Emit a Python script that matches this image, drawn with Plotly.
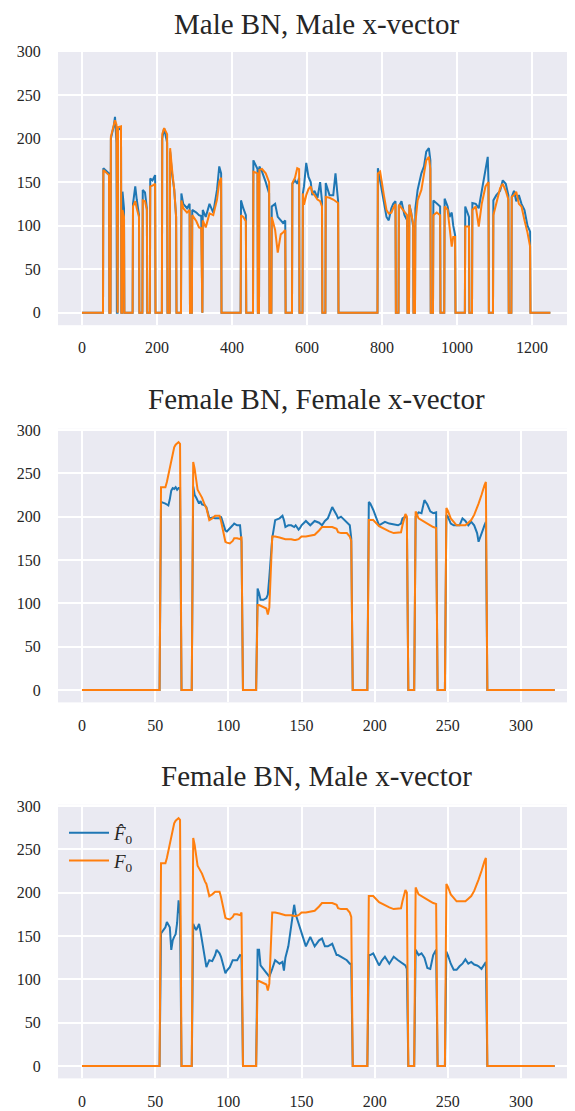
import plotly.graph_objects as go

# ---------------- Data ----------------
# Panel 1: Male BN, Male x-vector (frame index, predicted F0, ground-truth F0)
m_frames = [0, 56, 57, 72, 73, 76, 77, 85, 88, 92, 93, 95, 96, 104, 105, 107, 108, 112, 113, 135,
            136, 142, 146, 152, 153, 161, 162, 168, 173, 174, 181, 182, 188, 195, 196, 213, 214, 219, 227, 228,
            234, 235, 240, 246, 251, 252, 264, 265, 270, 280, 287, 288, 293, 294, 305, 312, 318, 319, 321, 322,
            330, 340, 350, 360, 366, 371, 372, 423, 424, 430, 437, 438, 456, 457, 468, 469, 472, 473, 480, 490,
            499, 500, 505, 506, 515, 522, 530, 536, 542, 543, 560, 561, 568, 574, 579, 580, 588, 589, 592, 598,
            604, 610, 614, 620, 628, 635, 640, 641, 649, 650, 660, 670, 676, 683, 684, 788, 789, 795, 805, 812,
            818, 825, 830, 836, 837, 844, 845, 852, 860, 867, 868, 872, 873, 878, 883, 884, 888, 889, 895, 905,
            912, 918, 925, 929, 930, 936, 937, 946, 955, 956, 966, 967, 975, 980, 986, 990, 995, 996, 1021, 1022,
            1032, 1033, 1040, 1041, 1050, 1058, 1066, 1076, 1082, 1084, 1085, 1096, 1097, 1105, 1115, 1122, 1130, 1137, 1138, 1145,
            1146, 1152, 1158, 1165, 1172, 1180, 1188, 1195, 1196, 1249]
m_pred = [0, 0, 166, 160, 0, 0, 200, 215, 225, 195, 0, 0, 210, 212, 0, 0, 139, 120, 0, 0,
          125, 145, 130, 112, 0, 0, 141, 138, 120, 0, 0, 154, 152, 158, 0, 0, 200, 212, 195, 0,
          0, 185, 160, 141, 110, 0, 0, 137, 125, 120, 125, 0, 0, 118, 115, 112, 111, 0, 0, 118,
          110, 125, 115, 141, 168, 160, 0, 0, 129, 120, 112, 0, 0, 175, 165, 0, 0, 168, 162, 150,
          137, 0, 0, 122, 125, 110, 106, 103, 106, 0, 0, 148, 152, 148, 155, 0, 0, 137, 145, 172,
          156, 150, 135, 140, 132, 150, 128, 0, 0, 149, 135, 135, 160, 128, 0, 0, 166, 150, 125, 110,
          106, 120, 125, 128, 0, 0, 122, 128, 112, 106, 0, 0, 124, 115, 99, 0, 0, 120, 141, 160,
          168, 185, 189, 175, 0, 0, 129, 125, 122, 0, 0, 131, 122, 110, 115, 100, 89, 0, 0, 122,
          110, 0, 0, 126, 125, 120, 140, 160, 179, 150, 0, 0, 129, 135, 140, 152, 148, 135, 0, 0,
          133, 140, 128, 135, 125, 118, 100, 93, 0, 0]
m_true = [0, 0, 164, 158, 0, 0, 202, 215, 221, 216, 0, 0, 213, 214, 0, 0, 118, 110, 0, 0,
          122, 128, 120, 110, 0, 0, 129, 128, 118, 0, 0, 145, 146, 148, 0, 0, 205, 212, 205, 0,
          0, 189, 165, 141, 110, 0, 0, 129, 120, 115, 118, 0, 0, 112, 105, 98, 97, 0, 0, 106,
          98, 114, 112, 130, 150, 155, 0, 0, 112, 110, 105, 0, 0, 162, 160, 0, 0, 164, 165, 160,
          150, 0, 0, 110, 95, 69, 90, 92, 95, 0, 0, 149, 155, 166, 165, 0, 0, 137, 124, 135,
          142, 145, 138, 135, 130, 128, 122, 0, 0, 133, 132, 130, 128, 126, 0, 0, 160, 162, 135, 118,
          114, 115, 120, 125, 0, 0, 124, 120, 115, 112, 0, 0, 124, 115, 103, 0, 0, 103, 129, 141,
          160, 175, 179, 165, 0, 0, 112, 115, 112, 0, 0, 122, 118, 99, 76, 87, 87, 0, 0, 99,
          99, 0, 0, 118, 122, 99, 125, 145, 149, 150, 0, 0, 112, 125, 143, 148, 140, 130, 0, 0,
          133, 135, 139, 125, 122, 106, 92, 76, 0, 0]

# Panels 2 & 3: female utterance (frame, ground truth F0, predicted with female / male x-vector)
f_frames = [0, 53, 54, 56, 57, 58, 59, 60, 61, 62, 63, 64, 65, 66, 67, 68, 75, 76, 77, 78,
            79, 80, 81, 82, 84, 85, 87, 89, 91, 92, 94, 95, 98, 99, 101, 103, 104, 106, 108, 109,
            110, 119, 120, 121, 122, 124, 126, 127, 128, 130, 132, 135, 137, 138, 139, 141, 143, 145, 146, 148,
            149, 150, 153, 156, 159, 162, 164, 166, 168, 171, 174, 175, 177, 181, 183, 184, 185, 195, 196, 197,
            199, 203, 205, 207, 210, 213, 216, 218, 219, 221, 222, 223, 227, 228, 230, 232, 234, 236, 238, 240,
            242, 243, 248, 249, 250, 252, 254, 256, 258, 260, 262, 264, 266, 268, 270, 271, 273, 274, 275, 276,
            277, 323]
f_true = [0, 0, 234, 234, 234, 240, 248, 255, 262, 268, 280, 283, 285, 286, 284, 0, 0, 263, 255, 245,
          231, 228, 225, 222, 213, 210, 196, 198, 201, 201, 201, 195, 171, 170, 169, 172, 175, 175, 174, 177,
          0, 0, 98, 98, 97, 96, 94, 87, 95, 177, 177, 176, 175, 175, 174, 174, 174, 173, 173, 174,
          176, 177, 177, 178, 179, 184, 188, 188, 188, 188, 186, 182, 181, 181, 177, 172, 0, 0, 196, 196,
          196, 189, 187, 185, 183, 181, 182, 182, 190, 203, 200, 0, 0, 206, 198, 196, 194, 193, 190, 188,
          187, 0, 0, 210, 207, 198, 194, 190, 190, 190, 190, 193, 196, 202, 210, 215, 225, 232, 236, 240,
          0, 0]
f_pred_female = [0, 0, 217, 216, 215, 214, 213, 220, 230, 233, 232, 234, 231, 233, 233, 0, 0, 235, 225, 222,
                 219, 215, 218, 214, 213, 211, 198, 199, 198, 198, 198, 200, 184, 183, 186, 190, 192, 190, 190, 171,
                 0, 0, 117, 112, 104, 104, 106, 110, 130, 175, 196, 198, 201, 196, 188, 190, 190, 188, 190, 185,
                 187, 190, 195, 190, 195, 193, 190, 195, 198, 211, 202, 198, 200, 194, 190, 175, 0, 0, 217, 215,
                 208, 190, 192, 194, 192, 191, 190, 192, 198, 200, 198, 0, 0, 200, 205, 204, 219, 214, 206, 204,
                 205, 0, 0, 202, 200, 192, 190, 190, 190, 198, 195, 190, 194, 190, 181, 171, 182, 185, 190, 194,
                 0, 0]
f_pred_male = [0, 0, 153, 157, 160, 166, 162, 160, 134, 145, 149, 152, 165, 191, 175, 0, 0, 164, 160, 157,
               160, 164, 155, 145, 120, 114, 122, 121, 128, 134, 130, 126, 107, 110, 114, 122, 122, 122, 128, 127,
               0, 0, 134, 134, 116, 112, 108, 106, 103, 112, 122, 118, 120, 110, 125, 138, 161, 186, 175, 164,
               160, 153, 138, 149, 138, 145, 147, 138, 138, 141, 128, 128, 126, 122, 118, 118, 0, 0, 128, 128,
               130, 116, 122, 126, 118, 126, 122, 120, 118, 116, 112, 0, 0, 134, 128, 130, 125, 113, 112, 128,
               134, 0, 0, 132, 128, 118, 111, 111, 115, 118, 123, 118, 120, 117, 116, 115, 112, 115, 118, 120,
               0, 0]

panel_titles = ["Male BN, Male x-vector", "Female BN, Female x-vector", "Female BN, Male x-vector"]
y_ticks = [0, 50, 100, 150, 200, 250, 300]
x_ticks_male = [0, 200, 400, 600, 800, 1000, 1200]
x_ticks_female = [0, 50, 100, 150, 200, 250, 300]
legend_pred = "<i>F̂</i><sub>0</sub>"
legend_true = "<i>F</i><sub>0</sub>"

# ---------------- Figure ----------------
BLUE = "#1f77b4"
ORANGE = "#ff7f0e"
BG = "#EAEAF2"
TXT = "#262626"
FONT = "Liberation Serif, DejaVu Serif, serif"

OFF = 8                     # page body margin of the browser
W, H = 575 - OFF, 1111 - OFF
L = 58 - OFF

def py2paper(py):
    return 1 - (py - OFF) / H

domains = [(py2paper(325.2), py2paper(50.3)),
           (py2paper(702.4), py2paper(428.8)),
           (py2paper(1078.4), py2paper(804.8))]
title_y = [24, 399, 776]

fig = go.Figure()

panels = [
    (m_frames, m_pred, m_true, x_ticks_male, [-64, 1314.7]),
    (f_frames, f_pred_female, f_true, x_ticks_female, [-16.4, 336.9]),
    (f_frames, f_pred_male, f_true, x_ticks_female, [-16.4, 336.9]),
]

for i, (xs, pred, true, xt, xr) in enumerate(panels):
    n = i + 1
    xa = "x" if n == 1 else f"x{n}"
    ya = "y" if n == 1 else f"y{n}"
    fig.add_trace(go.Scatter(x=xs, y=pred, mode="lines", xaxis=xa, yaxis=ya,
                             line=dict(color=BLUE, width=2), name=legend_pred,
                             showlegend=(n == 3)))
    fig.add_trace(go.Scatter(x=xs, y=true, mode="lines", xaxis=xa, yaxis=ya,
                             line=dict(color=ORANGE, width=2), name=legend_true,
                             showlegend=(n == 3)))
    axis_common = dict(showgrid=True, gridcolor="white", gridwidth=1.6, zeroline=False,
                       showline=False, ticks="outside", tickcolor="rgba(0,0,0,0)",
                       tickfont=dict(family=FONT, size=16, color=TXT), automargin=False)
    xkey = "xaxis" if n == 1 else f"xaxis{n}"
    ykey = "yaxis" if n == 1 else f"yaxis{n}"
    fig.layout[xkey] = dict(domain=[0, 1], anchor=ya, range=xr, tickvals=xt,
                            ticklen=8, **axis_common)
    fig.layout[ykey] = dict(domain=list(domains[i]), anchor=xa, range=[-14.35, 301.35],
                            tickvals=y_ticks, ticklen=13, **axis_common)
    fig.add_annotation(text=panel_titles[i], xref="paper", yref="paper",
                       x=0.5, y=py2paper(title_y[i]), xanchor="center", yanchor="middle",
                       showarrow=False, font=dict(family=FONT, size=29, color=TXT))

fig.update_layout(
    width=W, height=H,
    margin=dict(l=L, r=0, t=0, b=0, autoexpand=False),
    paper_bgcolor="white", plot_bgcolor=BG,
    font=dict(family=FONT, color=TXT),
    showlegend=True,
    legend=dict(x=(64 - 58) / (575 - 58), y=py2paper(814), xanchor="left", yanchor="top",
                bgcolor="rgba(0,0,0,0)", font=dict(family=FONT, size=19, color=TXT),
                tracegroupgap=0, itemwidth=40),
)

fig.write_html("out.html")
